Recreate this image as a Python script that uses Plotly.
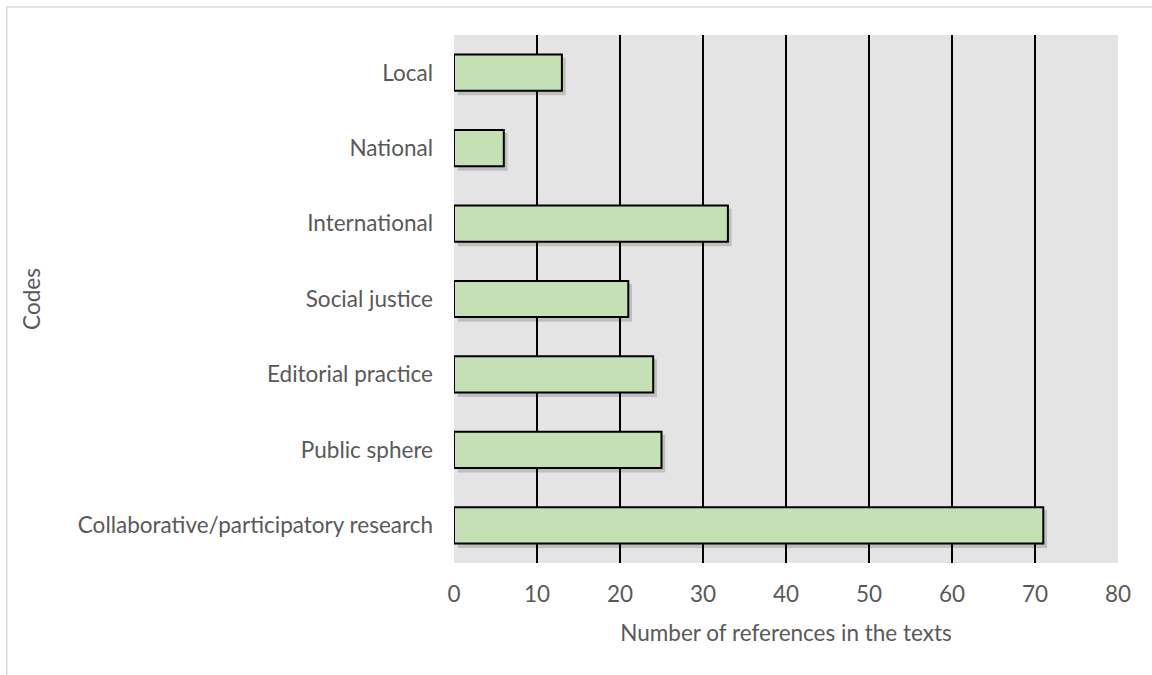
import plotly.graph_objects as go

codes = [
    "Local",
    "National",
    "International",
    "Social justice",
    "Editorial practice",
    "Public sphere",
    "Collaborative/participatory research",
]
counts = [13, 6, 33, 21, 24, 25, 71]
x_ticks = [0, 10, 20, 30, 40, 50, 60, 70, 80]

text_color = "#595959"
font_family = "Lato, Open Sans, sans-serif"
font_size = 22.5

fig = go.Figure()

# soft drop shadow under each bar, nudged down and to the right
fig.add_trace(go.Bar(
    x=counts, y=codes, orientation="h",
    base=0.45,
    width=0.5,
    offset=-0.3,
    marker=dict(color="rgba(0,0,0,0.16)", line=dict(width=0)),
    hoverinfo="skip",
    showlegend=False,
))

fig.add_trace(go.Bar(
    x=counts, y=codes, orientation="h",
    width=0.48,
    marker=dict(color="#c5e0b4", line=dict(color="#000000", width=2)),
    showlegend=False,
))

fig.update_layout(
    width=1152, height=675,
    margin=dict(l=454, r=34, t=35, b=112),
    paper_bgcolor="white",
    plot_bgcolor="#e4e4e4",
    font=dict(family=font_family, size=font_size, color=text_color),
    barmode="overlay",
    xaxis=dict(
        range=[0, 80],
        tickvals=x_ticks,
        showgrid=True, gridcolor="#000000", gridwidth=2,
        zeroline=False,
        showline=False,
        ticks="",
        ticklabelstandoff=15,
        title=dict(text="Number of references in the texts", standoff=19,
                   font=dict(size=font_size, color=text_color)),
    ),
    yaxis=dict(
        categoryorder="array",
        categoryarray=list(reversed(codes)),
        showgrid=False,
        zeroline=False,
        showline=False,
        ticks="",
        ticklabelstandoff=20,
        title=dict(text="Codes", standoff=30,
                   font=dict(size=font_size, color=text_color)),
    ),
    shapes=[dict(
        type="rect", xref="paper", yref="paper",
        x0=-0.6735, x1=1.06, y0=-0.25, y1=1.053,
        line=dict(color="#d9d9d9", width=1.5),
        fillcolor="rgba(0,0,0,0)", layer="below",
    )],
)

fig.write_html("out.html")
